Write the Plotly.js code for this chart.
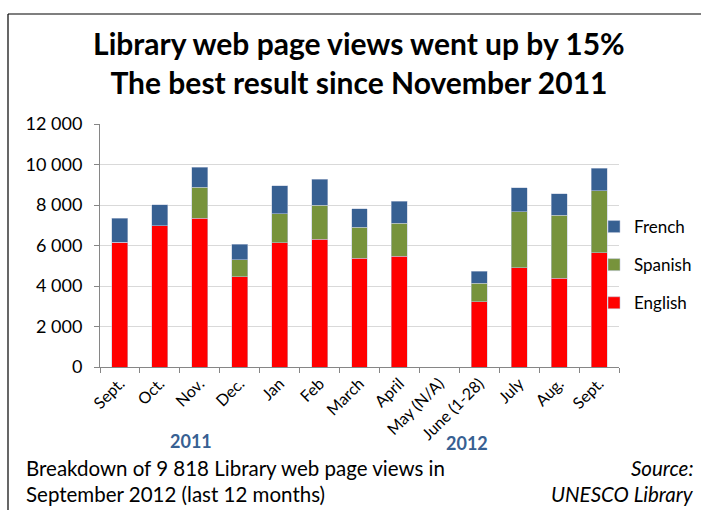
<!DOCTYPE html>
<html>
<head>
<meta charset="utf-8">
<script src="https://cdn.plot.ly/plotly-3.0.1.min.js"></script>
<style>html,body{margin:0;padding:0;background:#fff;}#chart{width:701px;height:510px;}</style>
</head>
<body>
<div id="chart"></div>
<script>
var months = ["Sept.", "Oct.", "Nov.", "Dec.", "Jan", "Feb", "March", "April", "May (N/A)", "June (1-28)", "July", "Aug.", "Sept."];
var monthIds = ["m0","m1","m2","m3","m4","m5","m6","m7","m8","m9","m10","m11","m12"];
var english = [6170, 6980, 7350, 4450, 6140, 6320, 5380, 5480, null, 3220, 4900, 4390, 5640];
var spanish = [0, 0, 1530, 850, 1430, 1670, 1520, 1630, null, 910, 2770, 3100, 3060];
var french  = [1180, 1040, 990, 760, 1390, 1290, 920, 1080, null, 590, 1190, 1070, 1120];
var yTicks = [0, 2000, 4000, 6000, 8000, 10000, 12000];

var FONT = "Lato, 'Open Sans', sans-serif";
var lineStyle = {color: "rgba(190,200,220,0.9)", width: 0.6};

var traces = [
  {type: "bar", name: "English", x: monthIds, y: english, marker: {color: "#FF0000", line: lineStyle}, legendgroup: "e", legendrank: 3},
  {type: "bar", name: "Spanish", x: monthIds, y: spanish, marker: {color: "#77933C", line: lineStyle}, legendgroup: "s", legendrank: 2},
  {type: "bar", name: "French",  x: monthIds, y: french,  marker: {color: "#376092", line: lineStyle}, legendgroup: "f", legendrank: 1}
];

var L = 100, PW = 519, B0 = 367, PH = 243;
function px(x) { return (x - L) / PW; }
function py(y) { return (B0 - y) / PH; }

var layout = {
  width: 701, height: 510,
  margin: {l: 100, r: 82, t: 124, b: 143, autoexpand: false},
  paper_bgcolor: "#fff", plot_bgcolor: "#fff",
  barmode: "stack", bargap: 0.6,
  separators: ". ",
  font: {family: FONT, color: "#000"},
  title: {
    text: "<b>Library web page views went up by 15%<br>The best result since November 2011</b>",
    font: {family: FONT, size: 30, color: "#000"},
    x: 0.512, xanchor: "center", xref: "container",
    y: 1 - 54.5 / 510, yanchor: "middle", yref: "container"
  },
  xaxis: {
    type: "category",
    tickmode: "array", tickvals: monthIds, ticktext: months,
    tickangle: -45, tickfont: {family: FONT, size: 16},
    showline: true, linecolor: "#868686", linewidth: 1,
    ticks: "outside", tickson: "boundaries", ticklen: 5, tickcolor: "#868686",
    showgrid: false, fixedrange: true, automargin: false
  },
  yaxis: {
    range: [0, 12000], tickvals: yTicks, tickformat: ",",
    tickfont: {family: FONT, size: 18},
    showline: true, linecolor: "#868686", linewidth: 1,
    ticks: "outside", ticklen: 5, tickcolor: "#868686",
    showgrid: true, gridcolor: "#D9D9D9", gridwidth: 1,
    zeroline: false, ticklabelstandoff: 8, fixedrange: true, automargin: false
  },
  legend: {
    xref: "container", yref: "container",
    x: 594 / 701, xanchor: "left", y: 1 - 265 / 510, yanchor: "middle",
    traceorder: "grouped", tracegroupgap: 13,
    font: {family: FONT, size: 17}, bgcolor: "rgba(0,0,0,0)"
  },
  shapes: [
    {type: "line", xref: "paper", yref: "paper", x0: px(8), x1: px(740), y0: py(14), y1: py(14), line: {color: "#000", width: 1.2}},
    {type: "line", xref: "paper", yref: "paper", x0: px(8), x1: px(8), y0: py(14), y1: py(560), line: {color: "#000", width: 1.2}}
  ],
  annotations: [
    {text: "<b>2011</b>", xref: "paper", yref: "paper", x: px(191), y: py(441), showarrow: false, xanchor: "center", yanchor: "middle", font: {family: FONT, size: 18, color: "#376092"}},
    {text: "<b>2012</b>", xref: "paper", yref: "paper", x: px(467), y: py(443), showarrow: false, xanchor: "center", yanchor: "middle", font: {family: FONT, size: 18, color: "#376092"}},
    {text: "Breakdown of 9 818 Library web page views in", xref: "paper", yref: "paper", x: px(24), y: py(468), showarrow: false, xanchor: "left", yanchor: "middle", font: {family: FONT, size: 20.5}},
    {text: "September 2012 (last 12 months)", xref: "paper", yref: "paper", x: px(24), y: py(494), showarrow: false, xanchor: "left", yanchor: "middle", font: {family: FONT, size: 20.5}},
    {text: "<i>Source:</i>", xref: "paper", yref: "paper", x: px(696), y: py(468), showarrow: false, xanchor: "right", yanchor: "middle", font: {family: FONT, size: 20.5}},
    {text: "<i>UNESCO Library</i>", xref: "paper", yref: "paper", x: px(696), y: py(494), showarrow: false, xanchor: "right", yanchor: "middle", font: {family: FONT, size: 20.5}}
  ]
};

Plotly.newPlot("chart", traces, layout, {displayModeBar: false, staticPlot: true});
</script>
</body>
</html>
